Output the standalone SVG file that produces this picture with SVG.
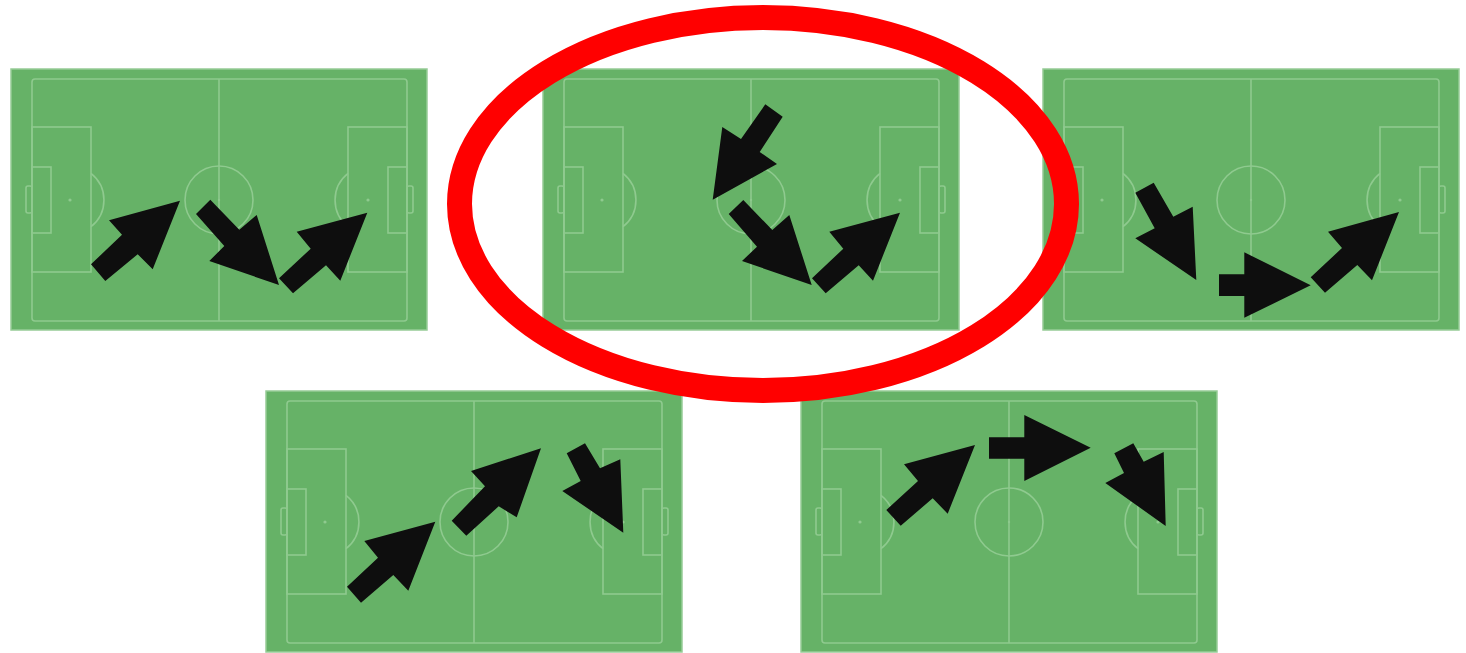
<svg xmlns="http://www.w3.org/2000/svg" xmlns:xlink="http://www.w3.org/1999/xlink" width="1466" height="653" viewBox="0 0 1466 653">
<style>
.field{fill:#66b267;stroke:#97cc97;stroke-width:1.5}
.ln{fill:none;stroke:#8fca8f;stroke-width:1.6}
.spot{fill:#8fca8f}
.arr{fill:#0e0e0e}
.ring{fill:none;stroke:#ff0000;stroke-width:25}
</style>
<defs>
<g id="pitch">
<rect class="field" x="0" y="0" width="416" height="261"/>
<rect class="ln" x="21" y="10" width="375" height="242" rx="3"/>
<line class="ln" x1="208" y1="10" x2="208" y2="252"/>
<circle class="ln" cx="208" cy="131" r="34"/>
<rect class="ln" x="21" y="58" width="59" height="145"/>
<rect class="ln" x="21" y="98" width="19" height="66"/>
<rect class="ln" x="15" y="117" width="6" height="27" rx="2"/>
<path class="ln" d="M80,104.3 A34,34 0 0 1 80,157.7"/>
<rect class="ln" x="337" y="58" width="59" height="145"/>
<rect class="ln" x="377" y="98" width="19" height="66"/>
<rect class="ln" x="396" y="117" width="6" height="27" rx="2"/>
<path class="ln" d="M337,104.3 A34,34 0 0 0 337,157.7"/>
<circle class="spot" cx="59" cy="131" r="1.6"/>
<circle class="spot" cx="357" cy="131" r="1.6"/>
<circle class="spot" cx="208" cy="131" r="1.2"/>
</g>
</defs>
<g id="pitch-1">
<use href="#pitch" x="11" y="69"/>
<polygon class="arr" points="91,264.3 105.3,281 137.7,254.3 152.7,269.3 180,200.7 109,220.3 122,234.7"/>
<polygon class="arr" points="196,214 210.3,199.7 239.3,229.7 256.7,215 279,285 209.3,261 224.3,246"/>
<polygon class="arr" points="279,278.3 293,293.3 326,265.3 340.3,280.7 367.3,212.7 296.7,231.7 310.7,248.7"/>
</g>
<g id="pitch-2">
<use href="#pitch" x="543" y="69"/>
<polygon class="arr" points="765.3,104.3 782.7,116.7 759.7,152 777,164 712.7,199.7 722.3,127 741,139"/>
<polygon class="arr" points="728.7,214 743.3,200 772.3,230 789.3,215 811.7,285 742,261 757,246.7"/>
<polygon class="arr" points="812,278.3 825.7,293.3 858.7,265.3 873,280.7 900,212.7 829.3,231.7 843.3,248.7"/>
</g>
<g id="pitch-3">
<use href="#pitch" x="1043" y="69"/>
<polygon class="arr" points="1135.3,192.7 1153.7,182.7 1173.3,216.7 1192.7,206.7 1196.3,280 1135.3,238.3 1154.7,228.3"/>
<polygon class="arr" points="1219,274.3 1244.3,274.3 1244.3,252.3 1310.7,285.3 1244.3,317.7 1244.3,296 1219,296"/>
<polygon class="arr" points="1310.7,277.3 1325,292.7 1357.3,265 1372,280.3 1399,212 1328,231.7 1342,248"/>
</g>
<g id="pitch-4">
<use href="#pitch" x="266" y="391"/>
<polygon class="arr" points="347,586.7 361,602.7 393.3,575 408.3,590.7 435.3,521.7 364.3,541 378,557.7"/>
<polygon class="arr" points="451.7,520.7 466.3,535.7 498.7,506.3 516.7,517.3 541,448.3 471,471 485,486.3"/>
<polygon class="arr" points="566.7,453.3 585,443.3 600,468.3 620.3,459.3 623.3,532.7 562.3,491 580.7,481"/>
</g>
<g id="pitch-5">
<use href="#pitch" x="801" y="391"/>
<polygon class="arr" points="886.3,510 900.7,525.7 932.7,498.3 947.7,513.7 975,445 904,464.3 918,481"/>
<polygon class="arr" points="989,437.3 1024.3,437.3 1024.3,415 1090.7,447.7 1024.3,481 1024.3,458.7 989,458.7"/>
<polygon class="arr" points="1114.3,453.3 1133.3,443.3 1143.7,461.7 1163.7,452 1165.7,526 1105.3,483 1124,473"/>
</g>
<g id="highlight">
<ellipse class="ring" cx="763" cy="204" rx="303.5" ry="186.5"/>
</g>
</svg>
